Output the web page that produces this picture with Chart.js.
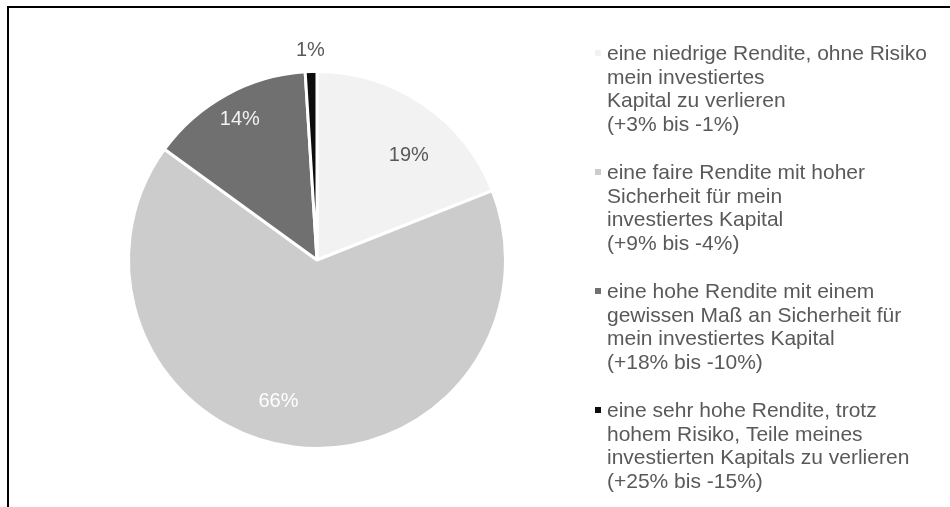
<!DOCTYPE html>
<html>
<head>
<meta charset="utf-8">
<script src="https://cdn.jsdelivr.net/npm/chart.js@4/dist/chart.umd.min.js"></script>
<style>
    html, body { margin: 0; padding: 0; background: #fff; }
    #wrap { position: relative; width: 950px; height: 507px; overflow: hidden; }
    #frame { position: absolute; left: 7px; top: 6px; right: -10px; bottom: -10px;
             border-top: 2px solid #000; border-left: 2px solid #000; pointer-events: none; }
    canvas { position: absolute; left: 0; top: 0; }
</style>
</head>
<body>
<div id="wrap">
    <canvas id="riskChart" width="950" height="507"></canvas>
    <div id="frame"></div>
</div>
<script>
const categories = [
    ['eine niedrige Rendite, ohne Risiko', 'mein investiertes', 'Kapital zu verlieren', '(+3% bis -1%)'],
    ['eine faire Rendite mit hoher', 'Sicherheit für mein', 'investiertes Kapital', '(+9% bis -4%)'],
    ['eine hohe Rendite mit einem', 'gewissen Maß an Sicherheit für', 'mein investiertes Kapital', '(+18% bis -10%)'],
    ['eine sehr hohe Rendite, trotz', 'hohem Risiko, Teile meines', 'investierten Kapitals zu verlieren', '(+25% bis -15%)']
];
const shares = [19, 66, 14, 1];
const sliceColors = ['#f2f2f2', '#cccccc', '#707070', '#0d0d0d'];
const labelColors = ['#595959', '#ffffff', '#f2f2f2', '#595959'];

const FONT = "'Liberation Sans', Arial, sans-serif";
const TEXT = '#595959';

// percentage labels on the slices (Excel "best fit" look: radius factor + small angle nudge)
const sliceLabels = {
    id: 'sliceLabels',
    afterDatasetsDraw(chart, args, opts) {
        const ctx = chart.ctx;
        const arcs = chart.getDatasetMeta(0).data;
        ctx.save();
        ctx.font = '20px ' + FONT;
        ctx.textAlign = 'center';
        ctx.textBaseline = 'middle';
        arcs.forEach((arc, i) => {
            const p = arc.getProps(['x', 'y', 'startAngle', 'endAngle', 'outerRadius'], true);
            const place = opts.place[i];
            const mid = (p.startAngle + p.endAngle) / 2 + place.nudge * Math.PI / 180;
            const r = place.outside ? p.outerRadius + 21 : p.outerRadius * place.r;
            ctx.fillStyle = labelColors[i];
            ctx.fillText(shares[i] + '%', p.x + Math.cos(mid) * r, p.y + Math.sin(mid) * r);
        });
        ctx.restore();
    }
};

// legend on the right with wrapped entries
const sideLegend = {
    id: 'sideLegend',
    afterDraw(chart) {
        const ctx = chart.ctx;
        const x0 = 595, textX = 607, firstBase = 60, lineStep = 23.5, itemStep = 119;
        ctx.save();
        ctx.font = '21px ' + FONT;
        ctx.textAlign = 'left';
        ctx.textBaseline = 'alphabetic';
        categories.forEach((lines, i) => {
            const base = firstBase + i * itemStep;
            ctx.fillStyle = sliceColors[i];
            ctx.fillRect(x0, base - 10, 6, 6);
            ctx.fillStyle = TEXT;
            lines.forEach((t, j) => ctx.fillText(t, textX, base + j * lineStep));
        });
        ctx.restore();
    }
};

new Chart(document.getElementById('riskChart').getContext('2d'), {
    type: 'pie',
    data: {
        labels: categories,
        datasets: [{
            data: shares,
            backgroundColor: sliceColors,
            borderColor: '#ffffff',
            borderWidth: 3
        }]
    },
    options: {
        responsive: false,
        animation: false,
        layout: { padding: { left: 127, right: 443, top: 70, bottom: 57 } },
        plugins: {
            legend: { display: false },
            tooltip: { enabled: false },
            sliceLabels: {
                place: [
                    { r: 0.74, nudge: 7 },
                    { r: 0.78, nudge: 8 },
                    { r: 0.85, nudge: 0 },
                    { outside: true, nudge: 0 }
                ]
            }
        }
    },
    plugins: [sliceLabels, sideLegend]
});
</script>
</body>
</html>
